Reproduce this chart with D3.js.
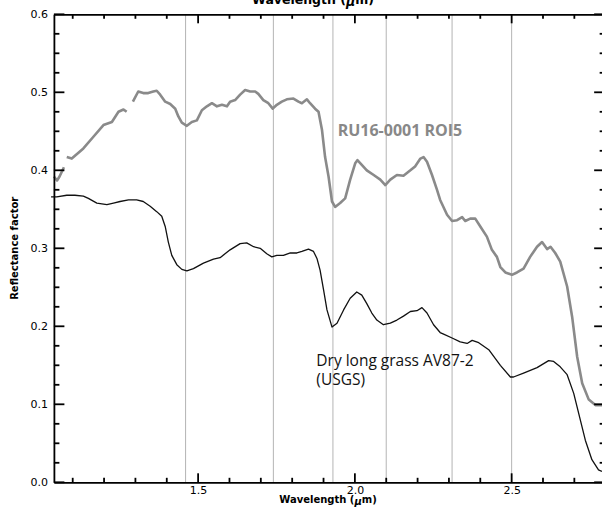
<!DOCTYPE html>
<html>
<head>
<meta charset="utf-8">
<script src="https://cdn.jsdelivr.net/npm/d3@7/dist/d3.min.js"></script>
<style>
  html, body { margin: 0; padding: 0; background: #fff; }
  svg { display: block; }
</style>
</head>
<body>
<div id="chart"></div>
<script>
// Spectral reflectance: field ROI vs. USGS library spectrum
const roi5Wavelength = [
  1.040, 1.050, 1.058, 1.072, null,
  1.081, 1.097, 1.134, 1.166, 1.198, 1.225, 1.246, 1.262, 1.272, null,
  1.292, 1.309, 1.325, 1.341, 1.357, 1.368, 1.379, 1.395, 1.411, 1.427,
  1.437, 1.448, 1.464, 1.480, 1.496, 1.512, 1.528, 1.544, 1.560, 1.576,
  1.592, 1.602, 1.618, 1.634, 1.650, 1.666, 1.682, 1.692, 1.708, 1.724,
  1.738, 1.751, 1.767, 1.783, 1.804, 1.820, 1.831, 1.847, 1.857, 1.873,
  1.884, 1.895, 1.905, 1.916, 1.927, 1.937, 1.953, 1.969, 1.985, 2.001,
  2.008, 2.022, 2.038, 2.060, 2.081, 2.097, 2.113, 2.134, 2.155, 2.177,
  2.192, 2.209, 2.219, 2.230, 2.246, 2.262, 2.272, 2.294, 2.310, 2.326,
  2.342, 2.352, 2.368, 2.384, 2.400, 2.421, 2.437, 2.453, 2.464, 2.480,
  2.501, 2.517, 2.538, 2.559, 2.581, 2.597, 2.613, 2.624, 2.639, 2.655,
  2.677, 2.693, 2.709, 2.725, 2.746, 2.767, 2.789
];
const roi5Reflectance = [
  0.392, 0.387, 0.392, 0.404, null,
  0.417, 0.415, 0.428, 0.443, 0.458, 0.462, 0.475, 0.478, 0.475, null,
  0.488, 0.501, 0.499, 0.499, 0.501, 0.502, 0.497, 0.488, 0.485, 0.479,
  0.469, 0.461, 0.457, 0.462, 0.464, 0.477, 0.482, 0.486, 0.482, 0.484,
  0.482, 0.488, 0.490, 0.497, 0.503, 0.501, 0.501, 0.498, 0.490, 0.486,
  0.479, 0.484, 0.488, 0.491, 0.492, 0.488, 0.486, 0.491, 0.486, 0.479,
  0.475, 0.452, 0.417, 0.392, 0.360, 0.353, 0.358, 0.364, 0.388, 0.409,
  0.413, 0.407, 0.400, 0.394, 0.388, 0.381, 0.388, 0.394, 0.393, 0.400,
  0.405, 0.415, 0.417, 0.411, 0.394, 0.375, 0.362, 0.343, 0.335, 0.336,
  0.340, 0.335, 0.338, 0.338, 0.328, 0.315, 0.298, 0.289, 0.276, 0.269,
  0.266, 0.269, 0.274, 0.289, 0.302, 0.308, 0.299, 0.302, 0.294, 0.283,
  0.251, 0.212, 0.161, 0.127, 0.106, 0.099, 0.099
];

const grassWavelength = [
  1.031, 1.049, 1.081, 1.107, 1.134, 1.150, 1.177, 1.209, 1.230, 1.251,
  1.278, 1.304, 1.325, 1.347, 1.368, 1.384, 1.395, 1.405, 1.416, 1.432,
  1.448, 1.464, 1.485, 1.517, 1.549, 1.570, 1.602, 1.634, 1.655, 1.677,
  1.698, 1.719, 1.735, 1.751, 1.772, 1.794, 1.815, 1.831, 1.852, 1.868,
  1.879, 1.889, 1.900, 1.911, 1.927, 1.943, 1.964, 1.985, 2.006, 2.022,
  2.038, 2.054, 2.070, 2.091, 2.113, 2.134, 2.155, 2.177, 2.198, 2.214,
  2.230, 2.251, 2.272, 2.283, 2.310, 2.336, 2.358, 2.374, 2.395, 2.427,
  2.464, 2.496, 2.506, 2.538, 2.581, 2.618, 2.634, 2.655, 2.677, 2.698,
  2.719, 2.735, 2.756, 2.777, 2.788
];
const grassReflectance = [
  0.366, 0.366, 0.368, 0.368, 0.367, 0.364, 0.358, 0.356, 0.358, 0.360,
  0.362, 0.362, 0.360, 0.354, 0.347, 0.341, 0.328, 0.308, 0.291, 0.279,
  0.273, 0.271, 0.274, 0.281, 0.286, 0.288, 0.298, 0.306, 0.307, 0.302,
  0.300, 0.293, 0.289, 0.291, 0.291, 0.294, 0.294, 0.296, 0.299, 0.296,
  0.287, 0.272, 0.247, 0.221, 0.199, 0.204, 0.221, 0.236, 0.244, 0.240,
  0.229, 0.217, 0.208, 0.202, 0.204, 0.208, 0.213, 0.219, 0.220, 0.224,
  0.217, 0.202, 0.192, 0.190, 0.185, 0.180, 0.178, 0.182, 0.179, 0.170,
  0.150, 0.135, 0.135, 0.140, 0.147, 0.156, 0.155, 0.148, 0.138, 0.114,
  0.080, 0.054, 0.029, 0.016, 0.014
];

// Absorption feature markers (µm)
const featureLines = [1.46, 1.74, 1.93, 2.10, 2.31, 2.50];

const xMajorTicks = [1.5, 2.0, 2.5];
const xMinorTicks = [1.1, 1.2, 1.3, 1.4, 1.6, 1.7, 1.8, 1.9, 2.1, 2.2, 2.3, 2.4, 2.6, 2.7];
const yMajorTicks = [0.0, 0.1, 0.2, 0.3, 0.4, 0.5, 0.6];
const yMinorTicks = [0.025, 0.05, 0.075, 0.125, 0.15, 0.175, 0.225, 0.25, 0.275,
  0.325, 0.35, 0.375, 0.425, 0.45, 0.475, 0.525, 0.55, 0.575];

const roi5Label = "RU16-0001 ROI5";
const grassLabel = ["Dry long grass AV87-2", "(USGS)"];

const width = 602, height = 508;
const margin = { top: 14.3, right: -3.7, bottom: 25.7, left: 53.9 };

const svg = d3.select("#chart").append("svg")
  .attr("width", width).attr("height", height);

const x = d3.scaleLinear().domain([1.04, 2.8])
  .range([margin.left, width - margin.right]);
const y = d3.scaleLinear().domain([0, 0.6])
  .range([height - margin.bottom, margin.top]);

const x0 = x.range()[0], x1 = x.range()[1];
const y0 = y.range()[0], y1 = y.range()[1];

// feature lines
svg.append("g").selectAll("line").data(featureLines).join("line")
  .attr("x1", d => x(d)).attr("x2", d => x(d))
  .attr("y1", y0).attr("y2", y1)
  .attr("stroke", "#b4b4b4").attr("stroke-width", 1);

// spectra
const line = d3.line()
  .defined(d => d[0] != null && d[1] != null)
  .x(d => x(d[0])).y(d => y(d[1]));

const roi5 = roi5Wavelength.map((w, i) => [w, roi5Reflectance[i]]);
const grass = grassWavelength.map((w, i) => [w, grassReflectance[i]]);

svg.append("path").datum(roi5)
  .attr("d", line).attr("fill", "none")
  .attr("stroke", "#8a8a8a").attr("stroke-width", 2.6)
  .attr("stroke-linejoin", "round");

svg.append("path").datum(grass)
  .attr("d", line).attr("fill", "none")
  .attr("stroke", "#111").attr("stroke-width", 1.3)
  .attr("stroke-linejoin", "round");

// axis labels and frame lines from d3 axes
function styleAxis(g) {
  g.selectAll(".domain").attr("stroke", "#000").attr("stroke-width", 1.8);
  g.selectAll(".tick text").attr("fill", "#000")
    .attr("font-family", "DejaVu Sans, sans-serif").attr("font-size", 11);
}
svg.append("g").attr("transform", `translate(0,${y0})`)
  .call(d3.axisBottom(x).tickValues(xMajorTicks).tickSize(0).tickPadding(4)
    .tickFormat(d3.format(".1f")))
  .call(styleAxis);
svg.append("g").attr("transform", `translate(0,${y1})`)
  .call(d3.axisTop(x).tickValues([]).tickSize(0))
  .call(styleAxis);
svg.append("g").attr("transform", `translate(${x0},0)`)
  .call(d3.axisLeft(y).tickValues(yMajorTicks).tickSize(0).tickPadding(6)
    .tickFormat(d3.format(".1f")))
  .call(styleAxis);
svg.append("g").attr("transform", `translate(${x1},0)`)
  .call(d3.axisRight(y).tickValues([]).tickSize(0))
  .call(styleAxis);

// inward tick marks on all four sides
const tickG = svg.append("g").attr("stroke", "#000").attr("stroke-width", 1.8);
const xTicks = xMajorTicks.map(v => ({ v, len: 9 })).concat(xMinorTicks.map(v => ({ v, len: 4.5 })));
const yTicks = yMajorTicks.map(v => ({ v, len: 10.5 })).concat(yMinorTicks.map(v => ({ v, len: 5.5 })));

tickG.selectAll("line.xb").data(xTicks).join("line").attr("class", "xb")
  .attr("x1", d => x(d.v)).attr("x2", d => x(d.v))
  .attr("y1", y0).attr("y2", d => y0 - d.len);
tickG.selectAll("line.xt").data(xTicks).join("line").attr("class", "xt")
  .attr("x1", d => x(d.v)).attr("x2", d => x(d.v))
  .attr("y1", y1).attr("y2", d => y1 + d.len);
tickG.selectAll("line.yl").data(yTicks).join("line").attr("class", "yl")
  .attr("y1", d => y(d.v)).attr("y2", d => y(d.v))
  .attr("x1", x0).attr("x2", d => x0 + d.len);
tickG.selectAll("line.yr").data(yTicks).join("line").attr("class", "yr")
  .attr("y1", d => y(d.v)).attr("y2", d => y(d.v))
  .attr("x1", x1).attr("x2", d => x1 - d.len * 1.1);

// axis titles
function addWavelengthTitle(xPos, yPos, size) {
  const t = svg.append("text")
    .attr("x", xPos).attr("y", yPos)
    .attr("text-anchor", "middle")
    .attr("font-family", "DejaVu Sans, sans-serif").attr("font-size", size)
    .attr("font-weight", "bold").attr("fill", "#000");
  t.append("tspan").text("Wavelength (");
  t.append("tspan").attr("font-style", "italic").attr("dy", 2).text("\u03bc");
  t.append("tspan").attr("dy", -2).text("m)");
}
addWavelengthTitle(328, 503, 10);
addWavelengthTitle(313, 4, 12.5);

svg.append("text")
  .attr("transform", `translate(18,${(y0 + y1) / 2}) rotate(-90)`)
  .attr("text-anchor", "middle")
  .attr("font-family", "DejaVu Sans, sans-serif").attr("font-size", 10)
  .attr("font-weight", "bold").attr("fill", "#000")
  .text("Reflectance factor");

// series labels
svg.append("text")
  .attr("x", x(1.945)).attr("y", y(0.4446))
  .attr("font-family", "Open Sans, sans-serif").attr("font-size", 16)
  .attr("font-weight", "bold").attr("fill", "#888")
  .text(roi5Label);

svg.append("text")
  .attr("x", x(1.877)).attr("y", y(0.1495))
  .attr("font-family", "Open Sans, sans-serif").attr("font-size", 15.5)
  .attr("fill", "#111")
  .selectAll("tspan").data(grassLabel).join("tspan")
  .attr("x", x(1.877)).attr("dy", (d, i) => i === 0 ? 0 : 19.5)
  .text(d => d);
</script>
</body>
</html>
